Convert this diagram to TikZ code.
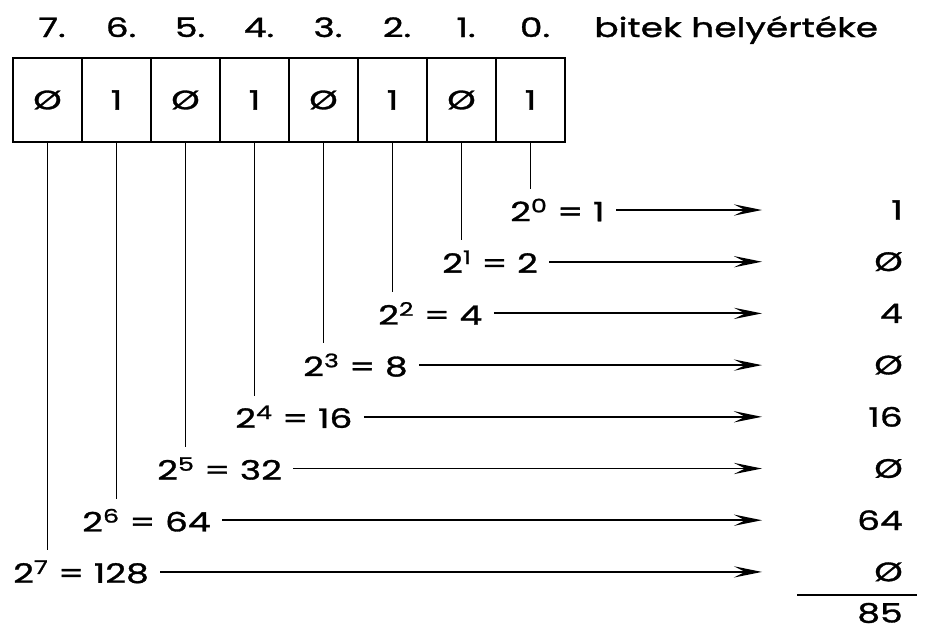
\documentclass[tikz,border=0pt]{standalone}
\usepackage{fontspec}
\setmainfont{Poppins}[FakeStretch=1.35, FakeBold=1.2]
\usetikzlibrary{arrows.meta, positioning}

\tikzset{
  bitbox/.style={draw, line width=2pt, minimum width=1.725cm, minimum height=2.1cm, inner sep=0pt},
  powlabel/.style={anchor=west, inner xsep=0pt, inner ysep=7pt},
  sumarrow/.style={line width=1.3pt, -{Stealth[length=20pt, width=8pt, inset=8pt]}},
  tie/.style={line width=1.3pt}
}

\begin{document}
\begin{tikzpicture}[x=0.025cm, y=-0.025cm, every node/.style={font=\fontsize{19}{22}\selectfont}]
\useasboundingbox (0,0) rectangle (926,631);
% bit boxes with their place numbers
\foreach \b/\v in {7/Ø,6/1,5/Ø,4/1,3/Ø,2/1,1/Ø,0/1} {
  \node[bitbox] (bit\b) at ({47.5+(7-\b)*69},100) {\v};
  \node[anchor=base, inner sep=0pt] (hdr\b) at ({52+(7-\b)*69},37) {\b.};
}
\node[anchor=base west, inner sep=0pt] (title) at (594,37) {bitek helyértéke};
% powers of two, arrows and the values
\foreach \i/\lx/\p/\v in {0/510/1/1, 1/442/2/Ø, 2/378/4/4, 3/303/8/Ø, 4/235/16/16, 5/157/32/Ø, 6/82/64/64, 7/13/128/Ø} {
  \node[powlabel] (pow\i) at (\lx,{210+51.7*\i}) {2\textsuperscript{\i} = \p};
  \coordinate (end\i) at (762,{210+51.7*\i});
  \node[anchor=east, inner sep=0pt] (val\i) at (903,{210+51.7*\i}) {\v};
  \draw[tie] (bit\i.south) -- (bit\i.south |- pow\i.north);
  \draw[sumarrow] ([xshift=8pt]pow\i.east) -- (end\i);
}
\draw[tie] (797,595) -- (917,595);
\node[anchor=east, inner sep=0pt] (sum) at (903,613) {85};
\end{tikzpicture}
\end{document}
